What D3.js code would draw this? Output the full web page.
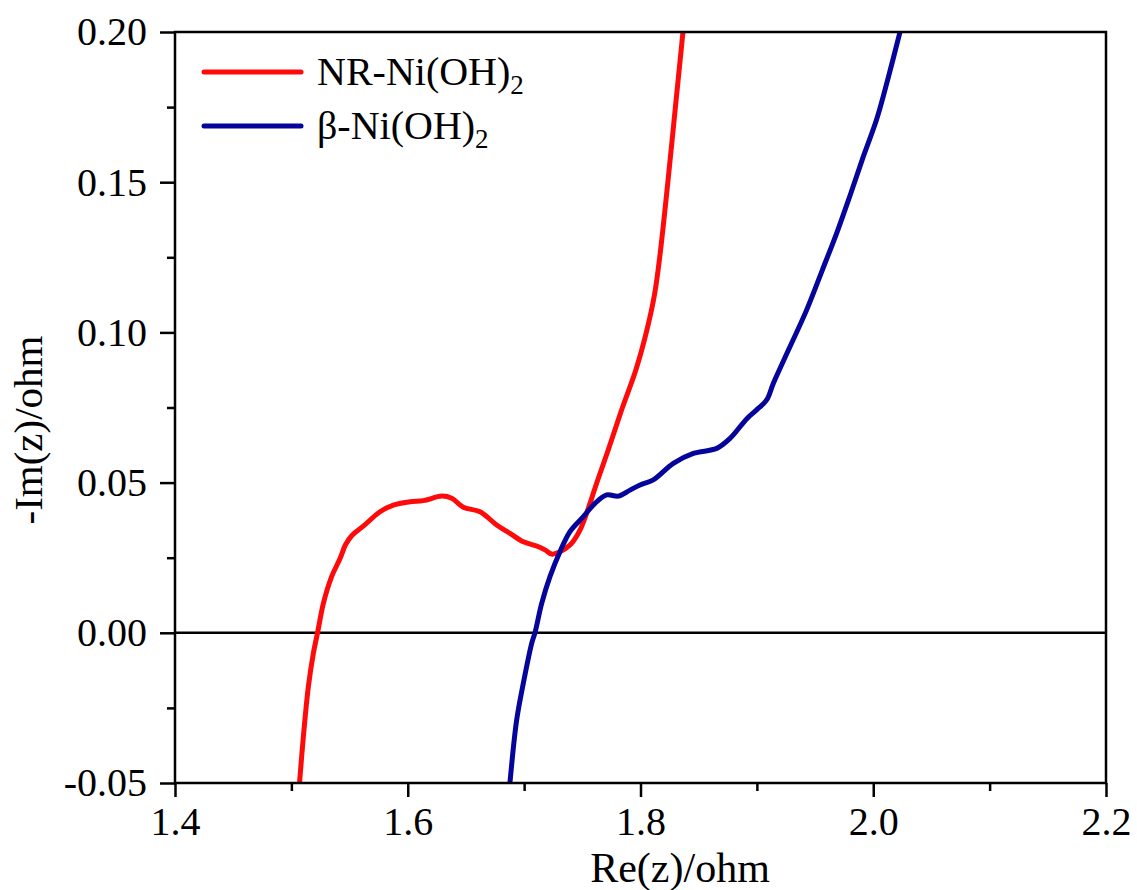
<!DOCTYPE html>
<html>
<head>
<meta charset="utf-8">
<script src="https://cdn.jsdelivr.net/npm/d3@7"></script>
<style>
  html, body { margin: 0; padding: 0; background: #fff; }
  svg text { font-family: "Liberation Serif", "Times New Roman", serif; fill: #000; }
</style>
</head>
<body>
<svg id="chart" width="1137" height="890"></svg>
<script>
// Nyquist plot data: Re(z) vs -Im(z), ohm
const nrRe = [1.507, 1.5103, 1.5146, 1.5189, 1.5226, 1.5275, 1.5346, 1.5418, 1.5465, 1.552,
  1.5618, 1.5762, 1.5876, 1.6019, 1.6134, 1.6292, 1.6378, 1.6477, 1.6621, 1.6764,
  1.6879, 1.6993, 1.7108, 1.7179, 1.7237, 1.7308, 1.7394, 1.748, 1.7566, 1.7623,
  1.7723, 1.7845, 1.796, 1.805, 1.812, 1.8165, 1.8235, 1.830, 1.8365];
const nrIm = [-0.05, -0.0346, -0.0179, -0.0068, 0.0002, 0.0098, 0.0187, 0.0247, 0.0293, 0.0324,
  0.0355, 0.0403, 0.0425, 0.0436, 0.044, 0.0455, 0.0448, 0.0418, 0.0403, 0.0359,
  0.0331, 0.0303, 0.0289, 0.0276, 0.0262, 0.027, 0.0292, 0.0342, 0.0431, 0.0498,
  0.0609, 0.075, 0.0875, 0.100, 0.1125, 0.125, 0.15, 0.175, 0.20];

const betaRe = [1.6879, 1.6936, 1.6993, 1.7065, 1.7093, 1.7151, 1.7222, 1.7308, 1.7394, 1.7509,
  1.7609, 1.7709, 1.781, 1.791, 1.7996, 1.811, 1.8282, 1.8454, 1.8655, 1.8769,
  1.8912, 1.8998, 1.9084, 1.9141, 1.9284, 1.9428, 1.956, 1.969, 1.980, 1.991,
  2.003, 2.013, 2.023];
const betaIm = [-0.0496, -0.029, -0.0168, -0.0035, 0.0, 0.0098, 0.0187, 0.027, 0.0337, 0.0387,
  0.0431, 0.0459, 0.0455, 0.0475, 0.0492, 0.0509, 0.0564, 0.0597, 0.0614, 0.0647,
  0.0712, 0.0742, 0.0775, 0.083, 0.0952, 0.1075, 0.1205, 0.1335, 0.1455, 0.158,
  0.171, 0.185, 0.2];

const xTicks = [1.4, 1.6, 1.8, 2.0, 2.2];
const xTickLabels = ["1.4", "1.6", "1.8", "2.0", "2.2"];
const xMinorTicks = [1.5, 1.7, 1.9, 2.1];
const yTicks = [-0.05, 0.0, 0.05, 0.10, 0.15, 0.20];
const yTickLabels = ["-0.05", "0.00", "0.05", "0.10", "0.15", "0.20"];
const yMinorTicks = [-0.025, 0.025, 0.075, 0.125, 0.175];

const seriesNames = ["NR-Ni(OH)", "β-Ni(OH)"];
const seriesColors = ["#ff0a0a", "#05059c"];

const serif = "'Liberation Serif', 'Times New Roman', serif";
const plotL = 175, plotR = 1106, plotT = 32, plotB = 783;

const svg = d3.select("#chart");
const x = d3.scaleLinear().domain([1.4, 2.2]).range([plotL, plotR]);
const y = d3.scaleLinear().domain([-0.05, 0.20]).range([plotB, plotT]);

svg.append("defs").append("clipPath").attr("id", "plotClip")
  .append("rect").attr("x", plotL).attr("y", plotT)
  .attr("width", plotR - plotL).attr("height", plotB - plotT);

// zero reference line
svg.append("line")
  .attr("x1", plotL).attr("x2", plotR)
  .attr("y1", y(0)).attr("y2", y(0))
  .attr("stroke", "#000").attr("stroke-width", 2.5);

// data curves
const line = d3.line().x(d => x(d[0])).y(d => y(d[1])).curve(d3.curveCatmullRom.alpha(0.5));
const series = [d3.zip(nrRe, nrIm), d3.zip(betaRe, betaIm)];
const curves = svg.append("g").attr("clip-path", "url(#plotClip)");
series.forEach((pts, i) => {
  curves.append("path").datum(pts)
    .attr("d", line)
    .attr("fill", "none")
    .attr("stroke", seriesColors[i])
    .attr("stroke-width", 5)
    .attr("stroke-linejoin", "round")
    .attr("stroke-linecap", "round");
});

// frame
svg.append("rect")
  .attr("x", plotL).attr("y", plotT)
  .attr("width", plotR - plotL).attr("height", plotB - plotT)
  .attr("fill", "none").attr("stroke", "#000").attr("stroke-width", 2.5);

// x axis
const xAxis = svg.append("g").attr("transform", `translate(0,${plotB})`)
  .call(d3.axisBottom(x).tickValues(xTicks).tickSize(14).tickSizeOuter(0)
    .tickPadding(10).tickFormat((d, i) => xTickLabels[i]));
const xMinor = svg.append("g").attr("transform", `translate(0,${plotB})`)
  .call(d3.axisBottom(x).tickValues(xMinorTicks).tickSize(8).tickSizeOuter(0).tickFormat(""));

// y axis
const yAxis = svg.append("g").attr("transform", `translate(${plotL},0)`)
  .call(d3.axisLeft(y).tickValues(yTicks).tickSize(15).tickSizeOuter(0)
    .tickPadding(13).tickFormat((d, i) => yTickLabels[i]));
const yMinor = svg.append("g").attr("transform", `translate(${plotL},0)`)
  .call(d3.axisLeft(y).tickValues(yMinorTicks).tickSize(8).tickSizeOuter(0).tickFormat(""));

[xAxis, xMinor, yAxis, yMinor].forEach(g => {
  g.attr("font-family", null);
  g.select(".domain").remove();
  g.selectAll(".tick line").attr("stroke", "#000").attr("stroke-width", 2.5);
  g.selectAll(".tick text")
    .style("font-family", serif)
    .style("font-size", "40px").attr("fill", "#000");
});

// axis titles
svg.append("text")
  .attr("x", 680).attr("y", 882)
  .attr("text-anchor", "middle")
  .style("font-family", serif).style("font-size", "42px")
  .text("Re(z)/ohm");
svg.append("text")
  .attr("transform", "translate(42,430) rotate(-90)")
  .attr("text-anchor", "middle")
  .style("font-family", serif).style("font-size", "41px")
  .text("-Im(z)/ohm");

// legend
const legend = svg.append("g");
seriesNames.forEach((name, i) => {
  const ly = 72 + i * 54;
  legend.append("line")
    .attr("x1", 204).attr("x2", 301).attr("y1", ly).attr("y2", ly)
    .attr("stroke", seriesColors[i]).attr("stroke-width", 5)
    .attr("stroke-linecap", "round");
  const t = legend.append("text")
    .attr("x", 317).attr("y", ly + 13)
    .style("font-family", serif).style("font-size", "40px");
  t.append("tspan").text(name);
  t.append("tspan").style("font-size", "27px").attr("dy", 9).text("2");
});
</script>
</body>
</html>
